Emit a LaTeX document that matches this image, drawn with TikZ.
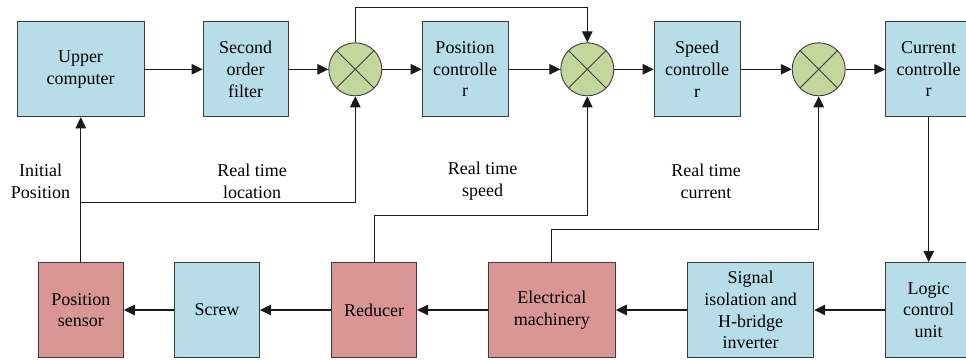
\documentclass[tikz,border=0pt]{standalone}
\usepackage{fontspec}
\setmainfont{Liberation Serif}
\usepackage{tikz}
\usetikzlibrary{arrows.meta,calc}
\definecolor{boxblue}{HTML}{B7DDE8}
\definecolor{boxred}{HTML}{D99694}
\definecolor{sumgreen}{HTML}{C3D69B}
\definecolor{linegray}{HTML}{1A1A1A}
\definecolor{bordergray}{HTML}{3C3C3C}

\begin{document}
\begin{tikzpicture}[x=1pt,y=-1pt,line width=1.1pt,
  font=\fontsize{18}{21.7}\selectfont,
  blk/.style={draw=bordergray,line width=0.9pt,fill=boxblue,minimum height=95pt,inner sep=0pt,align=center},
  redblk/.style={blk,fill=boxred},
  sum/.style={circle,draw=bordergray,line width=0.9pt,fill=sumgreen,minimum size=53pt,inner sep=0pt,
    path picture={\draw[line width=0.9pt] (path picture bounding box.north west) -- (path picture bounding box.south east)
      (path picture bounding box.north east) -- (path picture bounding box.south west);}},
  arr/.style={draw=linegray,-{Triangle[length=11pt,width=10.5pt]}},
  lbl/.style={align=center,inner sep=0pt}]
\clip (0,0) rectangle (966,359);
\node[blk,minimum width=127pt] (upc) at (80.5,69.3) {Upper\\computer};
\node[blk,minimum width=85pt] (filt) at (245.5,69.3) {Second\\order\\filter};
\node[sum] (sumA) at (355.3,69.3) {};
\node[blk,minimum width=86pt] (posc) at (465,69.3) {Position\\controlle\\r};
\node[sum] (sumB) at (587.3,69.3) {};
\node[blk,minimum width=86pt] (spdc) at (697,69.3) {Speed\\controlle\\r};
\node[sum] (sumC) at (818.7,69.3) {};
\node[blk,minimum width=86pt] (curc) at (928.7,69.3) {Current\\controlle\\r};
\node[redblk,minimum width=85pt] (sensor) at (80.8,310) {Position\\sensor};
\node[blk,minimum width=85pt] (screw) at (217,310) {Screw};
\node[redblk,minimum width=85pt] (red) at (374.2,310) {Reducer};
\node[redblk,minimum width=127pt] (motor) at (551.8,310) {Electrical\\machinery};
\node[blk,minimum width=126.5pt] (inv) at (750.5,310) {Signal\\isolation and\\H-bridge\\inverter};
\node[blk,minimum width=86pt] (logic) at (928.7,310) {Logic\\control\\unit};
\node[lbl] (lpos) at (40.5,181.5) {Initial\\Position};
\node[lbl] (lloc) at (252,181.5) {Real time\\location};
\node[lbl] (lspd) at (482.5,181.5) {Real time\\speed};
\node[lbl] (lcur) at (706,181.5) {Real time\\current};
\coordinate (tap) at (80.8,202.7);
\draw[arr] (upc) -- (filt);
\draw[arr] (filt) -- (sumA);
\draw[arr] (sumA) -- (posc);
\draw[arr] (posc) -- (sumB);
\draw[arr] (sumB) -- (spdc);
\draw[arr] (spdc) -- (sumC);
\draw[arr] (sumC) -- (curc);
\draw[arr] (sumA.north) -- ++(0,-35) -| (sumB.north);
\draw[arr] (curc.south) -- (logic.north);
\draw[arr] (logic) -- (inv);
\draw[arr] (inv) -- (motor);
\draw[arr] (motor) -- (red);
\draw[arr] (red) -- (screw);
\draw[arr] (screw) -- (sensor);
\draw[arr] (sensor.north) -- (sensor.north |- upc.south);
\draw[arr] (tap) -| (sumA.south);
\draw[arr] (red.north) -- ++(0,-47) -| (sumB.south);
\draw[arr] (motor.north) -- ++(0,-33) -| (sumC.south);
\end{tikzpicture}
\end{document}
